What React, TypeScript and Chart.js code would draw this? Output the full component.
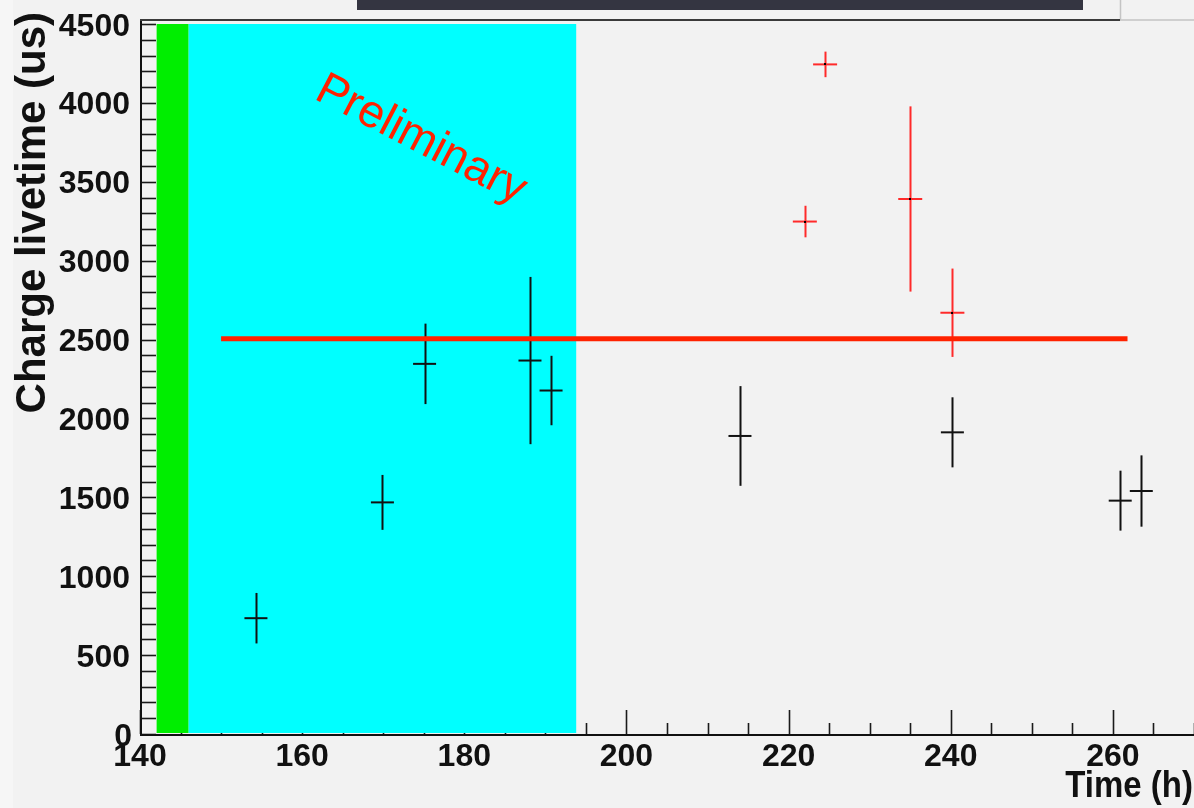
import React, { useEffect, useRef } from "react";
import { Chart, registerables } from "chart.js";

Chart.register(...registerables);

// Charge livetime measurements (time in hours, livetime in microseconds)
const blackTime = [154.3, 169.9, 175.1, 188.1, 190.7, 214.0, 240.2, 260.9, 263.5];
const blackLivetime = [734, 1468, 2346, 2367, 2177, 1889, 1912, 1479, 1540];
const blackError = [160, 174, 255, 530, 220, 316, 222, 190, 226];

const redTime = [222.0, 224.5, 235.0, 240.2];
const redLivetime = [3248, 4244, 3391, 2670];
const redError = [100, 81, 587, 280];

// Constant fit over the run
const fitLivetime = 2505;
const fitRange = [150.0, 261.8];

// Shaded periods
const bandStart = [142.05, 146.0];
const bandEnd = [146.0, 193.8];
const bandColors = ["#00ee00", "#00ffff"];
const bandTop = 4500;

const yTickLabels = [0, 500, 1000, 1500, 2000, 2500, 3000, 3500, 4000, 4500];
const xTickLabels = [140, 160, 180, 200, 220, 240, 260];

const X_MIN = 140;
const X_MAX = 270;
const Y_MIN = 0;
const Y_MAX = 4525.4;

const FONT = '"Liberation Sans", Arial, Helvetica, sans-serif';

const rootStylePlugin = {
  id: "rootStyle",
  beforeDraw(chart: any) {
    const { ctx, width, height } = chart;
    ctx.save();
    ctx.fillStyle = "#f2f2f2";
    ctx.fillRect(0, 0, width, height);
    ctx.fillStyle = "#f6f6f6";
    ctx.fillRect(0, 0, 13, height);
    // window decoration at the top
    ctx.fillStyle = "#343541";
    ctx.fillRect(357, 0, 726, 10);
    ctx.strokeStyle = "#c4c4c4";
    ctx.lineWidth = 1.5;
    ctx.beginPath();
    ctx.moveTo(1120.5, 0);
    ctx.lineTo(1120.5, 20);
    ctx.lineTo(width, 20);
    ctx.stroke();
    ctx.restore();
  },
  beforeDatasetsDraw(chart: any) {
    const { ctx, chartArea } = chart;
    const xs = chart.scales.x;
    const ys = chart.scales.y;
    const y0 = ys.getPixelForValue(0);
    ctx.save();

    // x ticks (inside, pointing up)
    ctx.strokeStyle = "#1a1a1a";
    ctx.lineWidth = 1.6;
    for (let v = X_MIN; v <= X_MAX; v += 5) {
      const px = Math.round(xs.getPixelForValue(v)) + 0.5;
      const len = v % 20 === 0 ? 24 : 11;
      ctx.beginPath();
      ctx.moveTo(px, y0);
      ctx.lineTo(px, y0 - len);
      ctx.stroke();
    }
    // y ticks (inside, pointing right)
    for (let v = 0; v <= 4500; v += 100) {
      const py = Math.round(ys.getPixelForValue(v)) + 0.5;
      ctx.beginPath();
      ctx.moveTo(chartArea.left, py);
      ctx.lineTo(chartArea.left + 16, py);
      ctx.stroke();
    }

    // shaded periods
    bandStart.forEach((s, i) => {
      const l = xs.getPixelForValue(s);
      const r = xs.getPixelForValue(bandEnd[i]);
      const t = ys.getPixelForValue(bandTop);
      ctx.fillStyle = bandColors[i];
      ctx.fillRect(l, t, r - l, y0 - t - 1);
    });

    // axis lines
    ctx.strokeStyle = "#111";
    ctx.lineWidth = 2;
    ctx.beginPath();
    ctx.moveTo(chartArea.left + 1, chartArea.top);
    ctx.lineTo(chartArea.left + 1, y0 + 1);
    ctx.lineTo(chartArea.right, y0 + 1);
    ctx.stroke();

    // tick labels
    ctx.fillStyle = "#111";
    ctx.font = `bold 32px ${FONT}`;
    ctx.textAlign = "right";
    ctx.textBaseline = "alphabetic";
    yTickLabels.forEach((v) => {
      const py = ys.getPixelForValue(v);
      ctx.fillText(String(v), v === 0 ? 132 : 130, py + 11.5);
    });
    ctx.textAlign = "center";
    xTickLabels.forEach((v) => {
      ctx.fillText(String(v), xs.getPixelForValue(v), 766);
    });

    // axis titles
    ctx.save();
    ctx.translate(1193, 797);
    ctx.scale(1, 1.1);
    ctx.font = `bold 33px ${FONT}`;
    ctx.textAlign = "right";
    ctx.fillText("Time (h)", 0, 0);
    ctx.restore();

    ctx.save();
    ctx.translate(45, 12);
    ctx.rotate(-Math.PI / 2);
    ctx.font = `bold 42px ${FONT}`;
    ctx.textAlign = "right";
    ctx.fillText("Charge livetime (us)", 0, 0);
    ctx.restore();

    // vertical error bars
    const drawErrors = (t: number[], v: number[], e: number[], color: string) => {
      ctx.strokeStyle = color;
      ctx.lineWidth = 2;
      t.forEach((x, i) => {
        const px = Math.round(xs.getPixelForValue(x)) + 0.5;
        ctx.beginPath();
        ctx.moveTo(px, ys.getPixelForValue(v[i] + e[i]));
        ctx.lineTo(px, ys.getPixelForValue(v[i] - e[i]));
        ctx.stroke();
      });
    };
    drawErrors(blackTime, blackLivetime, blackError, "#111");
    drawErrors(redTime, redLivetime, redError, "#ff2a2a");
    ctx.restore();
  },
  afterDatasetsDraw(chart: any) {
    const { ctx, chartArea } = chart;
    const xs = chart.scales.x;
    const ys = chart.scales.y;
    ctx.save();
    // marker dots
    ctx.fillStyle = "#000";
    redTime.forEach((x, i) => {
      const px = Math.round(xs.getPixelForValue(x));
      const py = Math.round(ys.getPixelForValue(redLivetime[i]));
      ctx.fillRect(px - 1, py - 1, 2, 2);
    });

    // "Preliminary" stamp
    ctx.translate(xs.getPixelForValue(161.35), ys.getPixelForValue(4030));
    ctx.rotate((27.5 * Math.PI) / 180);
    ctx.fillStyle = "#ff2200";
    ctx.font = `46px ${FONT}`;
    ctx.textAlign = "left";
    ctx.textBaseline = "alphabetic";
    ctx.fillText("Preliminary", 0, 0);
    ctx.restore();

    // frame top
    ctx.save();
    ctx.strokeStyle = "#3a3a3a";
    ctx.lineWidth = 2;
    ctx.beginPath();
    ctx.moveTo(chartArea.left, 20);
    ctx.lineTo(1120, 20);
    ctx.stroke();
    ctx.restore();
  },
};

export default function App() {
  const canvasRef = useRef<HTMLCanvasElement | null>(null);

  useEffect(() => {
    const canvas = canvasRef.current;
    if (!canvas) return;
    const chart = new Chart(canvas, {
      type: "scatter",
      data: {
        datasets: [
          {
            type: "line",
            label: "fit",
            data: fitRange.map((x) => ({ x, y: fitLivetime })),
            borderColor: "#ff2200",
            borderWidth: 5,
            pointRadius: 0,
            fill: false,
            order: 0,
          },
          {
            label: "black",
            data: blackTime.map((x, i) => ({ x, y: blackLivetime[i] })),
            pointStyle: "line",
            pointRadius: 11.5,
            borderColor: "#111",
            backgroundColor: "#111",
            borderWidth: 2,
            order: 1,
          },
          {
            label: "red",
            data: redTime.map((x, i) => ({ x, y: redLivetime[i] })),
            pointStyle: "line",
            pointRadius: 12,
            borderColor: "#ff2a2a",
            backgroundColor: "#ff2a2a",
            borderWidth: 2,
            order: 1,
          },
        ],
      },
      options: {
        animation: false,
        responsive: false,
        devicePixelRatio: 1,
        events: [],
        layout: { autoPadding: false, padding: { left: 140, top: 20, right: 0, bottom: 74 } },
        plugins: { legend: { display: false }, tooltip: { enabled: false } },
        scales: {
          x: { type: "linear", min: X_MIN, max: X_MAX, display: false },
          y: { type: "linear", min: Y_MIN, max: Y_MAX, display: false },
        },
      },
      plugins: [rootStylePlugin],
    });
    return () => chart.destroy();
  }, []);

  return (
    <div style={{ position: "fixed", left: 0, top: 0, width: 1194, height: 808, background: "#f2f2f2" }}>
      <canvas ref={canvasRef} width={1194} height={808} style={{ display: "block" }} />
    </div>
  );
}
